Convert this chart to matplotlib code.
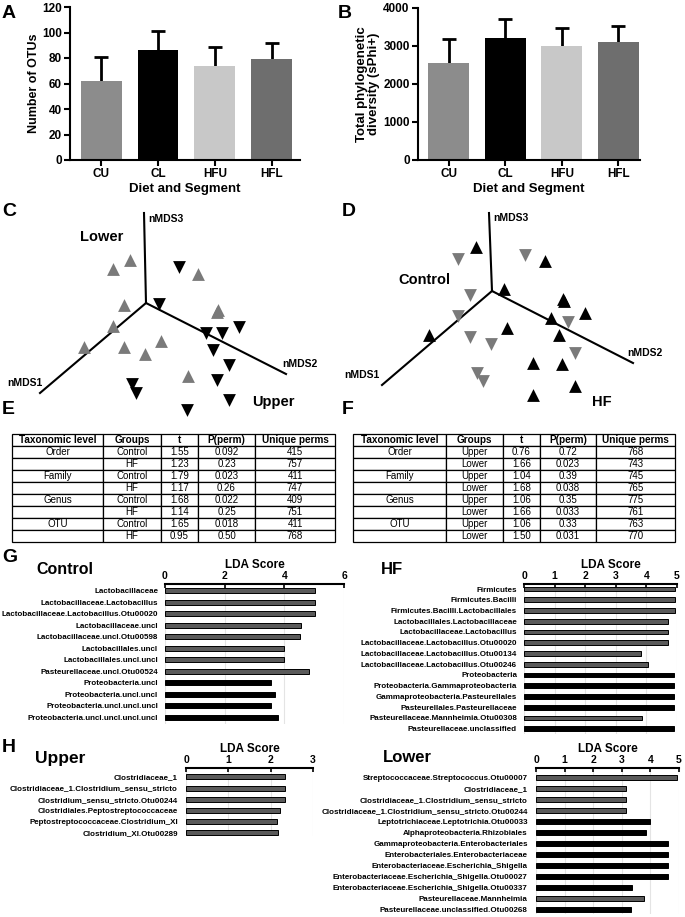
import matplotlib
matplotlib.use('Agg')
import matplotlib.pyplot as plt
import numpy as np

plt.rcParams['font.family'] = ['Liberation Sans', 'DejaVu Sans']
plt.rcParams['font.weight'] = 'bold'
plt.rcParams['axes.labelweight'] = 'bold'

# ---------------- data ----------------
groups = ['CU', 'CL', 'HFU', 'HFL']
bar_colors = ['#8c8c8c', '#000000', '#c8c8c8', '#6e6e6e']
otus_mean = [62, 86, 74, 79]
otus_err = [19, 15, 15, 13]
pd_mean = [2540, 3220, 3000, 3100]
pd_err = [640, 480, 480, 420]

# nMDS projected coordinates (panel C: segment)
c_axes_x = [146, 144, 146, 40, 146, 286]   # origin->nMDS3, origin->nMDS1, origin->nMDS2
c_axes_y = [303, 213, 303, 393, 303, 374]
lower_x = [130, 113, 198, 124, 217, 113, 84, 124, 161, 145, 188, 218]
lower_y = [260, 269, 274, 305, 312, 326, 347, 347, 341, 354, 376, 310]
upper_x = [179, 159, 239, 206, 222, 213, 229, 217, 132, 136, 229, 187]
upper_y = [267, 304, 327, 333, 333, 350, 365, 380, 384, 393, 400, 410]
# panel D: diet
d_axes_x = [492, 489, 492, 382, 492, 633]
d_axes_y = [291, 213, 291, 385, 291, 363]
hf_x = [476, 545, 504, 563, 585, 551, 507, 559, 429, 533, 562, 575, 533, 564]
hf_y = [247, 261, 289, 299, 313, 318, 328, 335, 335, 363, 364, 386, 395, 301]
ctl_x = [458, 525, 470, 458, 568, 470, 491, 575, 477, 483]
ctl_y = [259, 255, 295, 316, 322, 337, 344, 353, 373, 381]

tab_header = ['Taxonomic level', 'Groups', 't', 'P(perm)', 'Unique perms']
tabE_level = ['Order', '', 'Family', '', 'Genus', '', 'OTU', '']
tabE_group = ['Control', 'HF'] * 4
tabE_t = ['1.55', '1.23', '1.79', '1.17', '1.68', '1.14', '1.65', '0.95']
tabE_p = ['0.092', '0.23', '0.023', '0.26', '0.022', '0.25', '0.018', '0.50']
tabE_u = ['415', '757', '411', '747', '409', '751', '411', '768']
tabF_level = ['Order', '', 'Family', '', 'Genus', '', 'OTU', '']
tabF_group = ['Upper', 'Lower'] * 4
tabF_t = ['0.76', '1.66', '1.04', '1.68', '1.06', '1.66', '1.06', '1.50']
tabF_p = ['0.72', '0.023', '0.39', '0.038', '0.35', '0.033', '0.33', '0.031']
tabF_u = ['768', '743', '745', '765', '775', '761', '763', '770']

ctrl_taxa = ['Lactobacillaceae', 'Lactobacillaceae.Lactobacillus',
             'Lactobacillaceae.Lactobacillus.Otu00020', 'Lactobacillaceae.uncl',
             'Lactobacillaceae.uncl.Otu00598', 'Lactobacillales.uncl',
             'Lactobacillales.uncl.uncl', 'Pasteurellaceae.uncl.Otu00524',
             'Proteobacteria.uncl', 'Proteobacteria.uncl.uncl',
             'Proteobacteria.uncl.uncl.uncl', 'Proteobacteria.uncl.uncl.uncl.uncl']
ctrl_lda = [5.04, 5.04, 5.04, 4.55, 4.52, 4.00, 4.00, 4.83, 3.56, 3.69, 3.56, 3.80]
ctrl_cls = ['g'] * 8 + ['k'] * 4

hf_taxa = ['Firmicutes', 'Firmicutes.Bacilli', 'Firmicutes.Bacilli.Lactobacillales',
           'Lactobacillales.Lactobacillaceae', 'Lactobacillaceae.Lactobacillus',
           'Lactobacillaceae.Lactobacillus.Otu00020', 'Lactobacillaceae.Lactobacillus.Otu00134',
           'Lactobacillaceae.Lactobacillus.Otu00246', 'Proteobacteria',
           'Proteobacteria.Gammaproteobacteria', 'Gammaproteobacteria.Pasteurellales',
           'Pasteurellales.Pasteurellaceae', 'Pasteurellaceae.Mannheimia.Otu00308',
           'Pasteurellaceae.unclassified']
hf_lda = [4.95, 4.92, 4.92, 4.70, 4.70, 4.70, 3.82, 4.04, 4.91, 4.91, 4.89, 4.89, 3.87, 4.89]
hf_cls = ['g'] * 8 + ['k'] * 4 + ['g', 'k']

up_taxa = ['Clostridiaceae_1', 'Clostridiaceae_1.Clostridium_sensu_stricto',
           'Clostridium_sensu_stricto.Otu00244', 'Clostridiales.Peptostreptococcaceae',
           'Peptostreptococcaceae.Clostridium_XI', 'Clostridium_XI.Otu00289']
up_lda = [2.33, 2.33, 2.33, 2.22, 2.15, 2.18]
up_cls = ['g'] * 6

low_taxa = ['Streptococcaceae.Streptococcus.Otu00007', 'Clostridiaceae_1',
            'Clostridiaceae_1.Clostridium_sensu_stricto',
            'Clostridiaceae_1.Clostridium_sensu_stricto.Otu00244',
            'Leptotrichiaceae.Leptotrichia.Otu00033', 'Alphaproteobacteria.Rhizobiales',
            'Gammaproteobacteria.Enterobacteriales', 'Enterobacteriales.Enterobacteriaceae',
            'Enterobacteriaceae.Escherichia_Shigella',
            'Enterobacteriaceae.Escherichia_Shigella.Otu00027',
            'Enterobacteriaceae.Escherichia_Shigella.Otu00337',
            'Pasteurellaceae.Mannheimia', 'Pasteurellaceae.unclassified.Otu00268']
low_lda = [4.93, 3.14, 3.14, 3.14, 3.98, 3.84, 4.62, 4.62, 4.62, 4.62, 3.36, 3.77, 3.31]
low_cls = ['g'] * 4 + ['k'] * 7 + ['g', 'k']

# ---------------- figure ----------------
W, H = 685, 917
fig = plt.figure(figsize=(W / 100, H / 100), dpi=100)


def pax(x0, y0, x1, y1):
    return fig.add_axes([x0 / W, 1 - y1 / H, (x1 - x0) / W, (y1 - y0) / H])


def ftxt(x, y, s, **kw):
    kw.setdefault('fontweight', 'bold')
    fig.text(x / W, 1 - y / H, s, **kw)


def barpanel(rect, means, errs, ymax, ystep, ylabel, xlim, ylfs, lpad):
    ax = pax(*rect)
    x = np.arange(len(groups))
    ax.bar(x, means, width=0.72, color=bar_colors, zorder=2)
    _, caps, _ = ax.errorbar(x, means, yerr=[np.zeros(len(errs)), errs], fmt='none',
                             ecolor='black', elinewidth=2, capsize=4.7, capthick=2, zorder=1)
    caps[0].set_visible(False)
    ax.set_xlim(*xlim)
    ax.set_ylim(0, ymax)
    ax.set_yticks(np.arange(0, ymax + 1, ystep))
    ax.set_xticks(x)
    ax.set_xticklabels(groups)
    for s in ['top', 'right']:
        ax.spines[s].set_visible(False)
    for s in ['left', 'bottom']:
        ax.spines[s].set_linewidth(1.5)
    ax.tick_params(width=1.5, length=4, labelsize=8.5, pad=2)
    ax.set_xlabel('Diet and Segment', fontsize=9.5, labelpad=2)
    ax.set_ylabel(ylabel, fontsize=ylfs, labelpad=lpad, linespacing=1.0)
    return ax


barpanel((70, 7, 300, 160), otus_mean, otus_err, 120, 20, 'Number of OTUs', (-0.55, 3.5),
         9, 1)
barpanel((418, 8, 640, 160), pd_mean, pd_err, 4000, 1000,
         'Total phylogenetic\ndiversity (sPhi+)', (-0.54, 3.38), 9.5, 2)

# nMDS panels
GRAY_M = '#7a7a7a'
axC = pax(0, 200, 340, 425)
axC.set_xlim(0, 340)
axC.set_ylim(425, 200)
axC.axis('off')
for i in range(0, 6, 2):
    axC.plot(c_axes_x[i:i + 2], c_axes_y[i:i + 2], color='black', lw=1.5, zorder=1)
axC.scatter(lower_x, lower_y, marker='^', s=85, color=GRAY_M, linewidths=0, zorder=2)
axC.scatter(upper_x, upper_y, marker='v', s=85, color='black', linewidths=0, zorder=2)
axC.text(148, 219, 'nMDS3', fontsize=7.5, va='center', ha='left')
axC.text(7, 383, 'nMDS1', fontsize=7.5, va='center', ha='left')
axC.text(282, 364, 'nMDS2', fontsize=7.5, va='center', ha='left')
axC.text(80, 237, 'Lower', fontsize=10.5, va='center', ha='left')
axC.text(252, 402, 'Upper', fontsize=10.5, va='center', ha='left')

axD = pax(340, 200, 685, 425)
axD.set_xlim(340, 685)
axD.set_ylim(425, 200)
axD.axis('off')
for i in range(0, 6, 2):
    axD.plot(d_axes_x[i:i + 2], d_axes_y[i:i + 2], color='black', lw=1.5, zorder=1)
axD.scatter(hf_x, hf_y, marker='^', s=85, color='black', linewidths=0, zorder=2)
axD.scatter(ctl_x, ctl_y, marker='v', s=85, color=GRAY_M, linewidths=0, zorder=2)
axD.text(493, 218, 'nMDS3', fontsize=7.5, va='center', ha='left')
axD.text(344, 375, 'nMDS1', fontsize=7.5, va='center', ha='left')
axD.text(627, 353, 'nMDS2', fontsize=7.5, va='center', ha='left')
axD.text(398, 280, 'Control', fontsize=10.5, va='center', ha='left')
axD.text(592, 402, 'HF', fontsize=10.5, va='center', ha='left')


# tables
def draw_table(rect, cols, widths):
    ax = pax(*rect)
    ax.axis('off')
    rows = list(zip(*cols))
    w = np.array(widths, float)
    t = ax.table(cellText=rows, colLabels=tab_header, colWidths=list(w / w.sum()),
                 bbox=[0, 0, 1, 1], cellLoc='center')
    t.auto_set_font_size(False)
    for (r, c), cell in t.get_celld().items():
        cell.set_linewidth(0.9)
        cell.PAD = 0.02
        if r == 0:
            cell.get_text().set_fontweight('bold')
            cell.get_text().set_fontsize(7.2)
        else:
            cell.get_text().set_fontweight('normal')
            cell.get_text().set_fontsize(7)
    return ax


draw_table((12, 434, 335, 542), [tabE_level, tabE_group, tabE_t, tabE_p, tabE_u],
           [91, 58, 37, 57, 80])
draw_table((353, 434, 675, 542), [tabF_level, tabF_group, tabF_t, tabF_p, tabF_u],
           [93, 57, 37, 56, 79])

# LDA panels
cmap = {'g': '#5a5a5a', 'k': '#000000'}


def lda(rect, taxa, vals, cls, xmax, ylim, pad):
    ax = pax(*rect)
    y = np.arange(len(taxa))
    ax.barh(y, vals, height=0.44, color=[cmap[c] for c in cls], edgecolor='black',
            linewidth=0.7, zorder=2)
    ax.set_xlim(0, xmax)
    ax.set_ylim(*ylim)
    ax.set_yticks(y)
    ax.set_yticklabels(taxa, fontsize=5.8)
    ax.set_xticks(np.arange(0, xmax + 1, 2 if xmax == 6 else 1))
    ax.xaxis.tick_top()
    ax.xaxis.set_label_position('top')
    ax.set_xlabel('LDA Score', fontsize=8.5, labelpad=2)
    for s in ['bottom', 'left', 'right']:
        ax.spines[s].set_visible(False)
    ax.spines['top'].set_linewidth(1.5)
    ax.tick_params(axis='x', direction='in', length=3, width=1.2, labelsize=7.5, pad=2)
    ax.tick_params(axis='y', length=0, pad=pad)
    ax.grid(axis='x', color='#e4e4e4', linewidth=0.8, zorder=0)
    ax.set_axisbelow(True)
    return ax


lda((165, 584, 344, 724), ctrl_taxa, ctrl_lda, ctrl_cls, 6, (11.6, -0.6), 5)
axHF = lda((524, 584, 677, 734), hf_taxa, hf_lda, hf_cls, 5, (13.5, -0.47), 5)
axHF.xaxis.label.set_x(0.57)
lda((186, 768, 313, 836), up_taxa, up_lda, up_cls, 3, (5.3, -0.8), 6)
lda((536, 768, 679, 914), low_taxa, low_lda, low_cls, 5, (12.4, -0.9), 6)

# titles and panel letters
ftxt(36, 570, 'Control', fontsize=11.5, va='center', ha='left')
ftxt(381, 570, 'HF', fontsize=12, va='center', ha='left')
ftxt(35, 758, 'Upper', fontsize=12.5, va='center', ha='left')
ftxt(383, 758, 'Lower', fontsize=12, va='center', ha='left')
for lab, x, y in [('A', 2, 14), ('B', 338, 14), ('C', 2, 212), ('D', 342, 212),
                  ('E', 2, 410), ('F', 342, 410), ('G', 2, 558), ('H', 2, 748)]:
    ftxt(x, y, lab, fontsize=14, va='center', ha='left')

fig.savefig('out.png', dpi=100)
